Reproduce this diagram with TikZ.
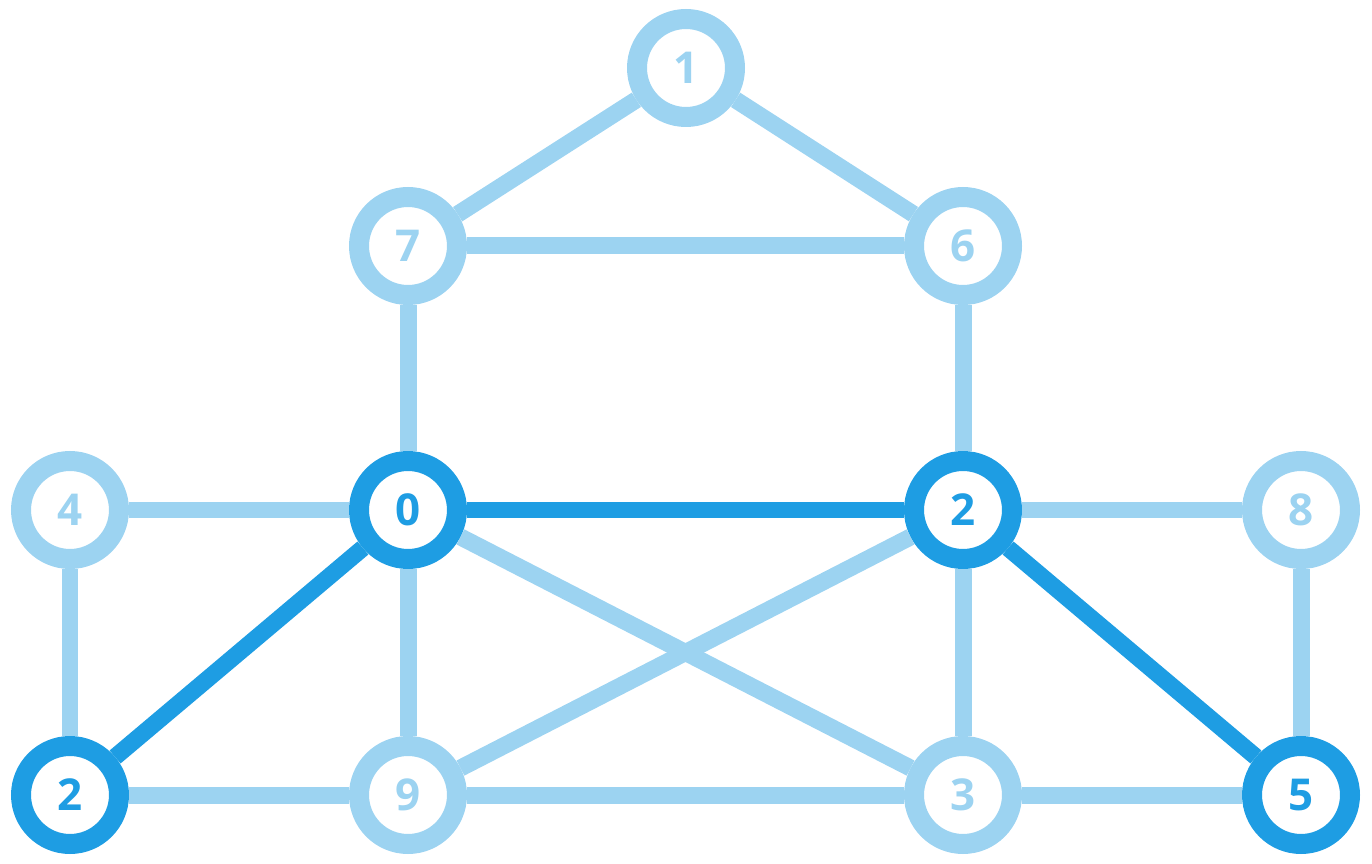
\documentclass[tikz,border=0pt]{standalone}
\usepackage{fontspec}
\setmainfont{Open Sans}
\definecolor{lite}{HTML}{9CD3F1}
\definecolor{dark}{HTML}{1E9DE3}

\begin{document}
\begin{tikzpicture}[x=.02cm,y=-.02cm,font=\fontsize{25}{30}\selectfont\bfseries,
  vtx/.style={circle,draw=lite,text=lite,fill=white,line width=.4cm,minimum size=1.96cm,inner sep=0pt},
  hot/.style={vtx,draw=dark,text=dark},
  ledge/.style={lite,line width=.34cm},
  dedge/.style={dark,line width=.34cm}]
\path[use as bounding box] (0,0) rectangle (1372,864);
% vertices
\node[vtx] (n1) at (686,68) {1};
\node[vtx] (n7) at (408,246) {7};
\node[vtx] (n6) at (963,246) {6};
\node[vtx] (n4) at (70,510) {4};
\node[hot] (n0) at (408,510) {0};
\node[hot] (n2) at (963,510) {2};
\node[vtx] (n8) at (1301,510) {8};
\node[hot] (m2) at (70,795) {2};
\node[vtx] (n9) at (408,795) {9};
\node[vtx] (n3) at (963,795) {3};
\node[hot] (n5) at (1301,795) {5};
% edges
\foreach \a/\b in {n1/n7,n1/n6,n7/n6,n7/n0,n6/n2,n4/n0,n2/n8,n4/m2,n0/n9,n0/n3,n2/n9,n2/n3,n8/n5,m2/n9,n9/n3,n3/n5}
  \draw[ledge] (\a) -- (\b);
\foreach \a/\b in {n0/n2,n0/m2,n2/n5}
  \draw[dedge] (\a) -- (\b);
\end{tikzpicture}
\end{document}
